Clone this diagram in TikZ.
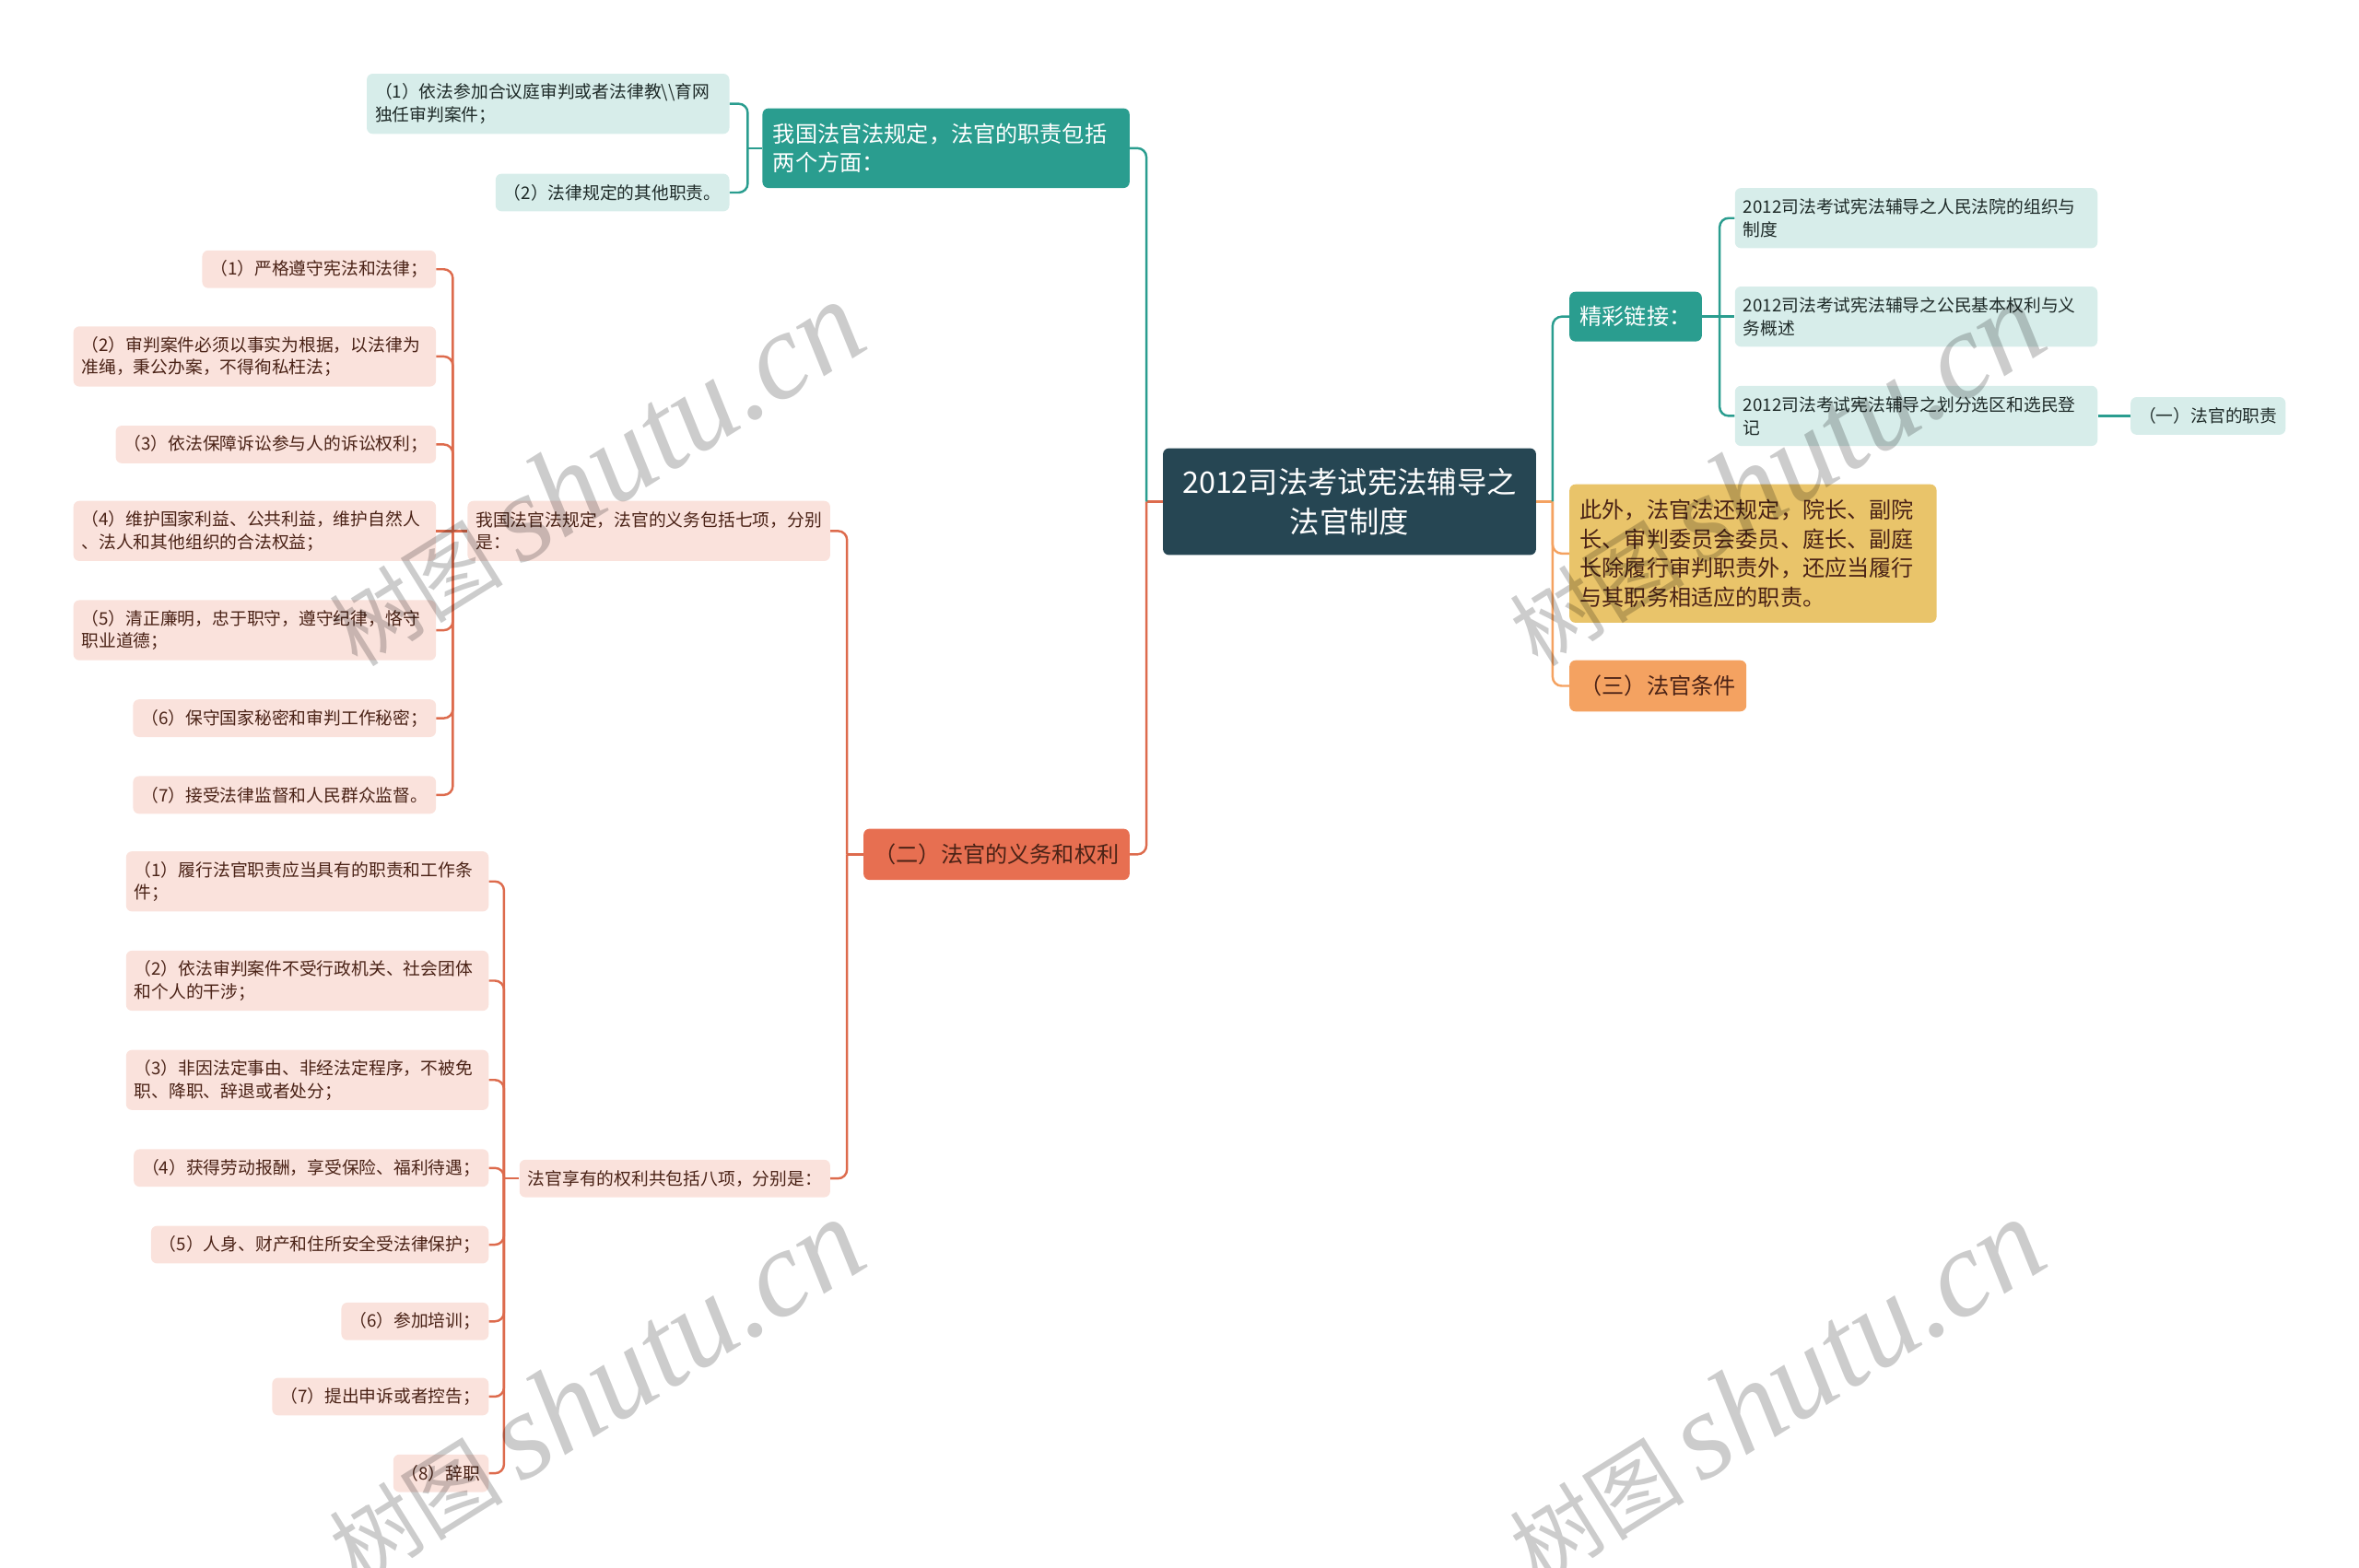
\documentclass[tikz,border=0pt]{standalone}
\usepackage{fontspec}
\setmainfont{Noto Sans CJK SC}
\newfontfamily\wmfont{Liberation Serif}

\definecolor{rootbg}{HTML}{264653}
\definecolor{tealc}{HTML}{2A9D8F}
\definecolor{tealbg}{HTML}{D7EDEA}
\definecolor{pinkbg}{HTML}{FAE2DC}
\definecolor{redc}{HTML}{E76F51}
\definecolor{linered}{HTML}{DD6B4D}
\definecolor{yellowbg}{HTML}{E9C46A}
\definecolor{orangec}{HTML}{F4A261}
\definecolor{browntxt}{HTML}{4A2216}
\definecolor{darktxt}{HTML}{1E2A28}

\begin{document}
\begin{tikzpicture}[x=1pt,y=-1pt,
  every node/.style={rounded corners=4pt,align=left},
  kid/.style={font=\fontsize{11.5}{15}\selectfont,inner xsep=5.5pt,inner ysep=3pt,minimum height=25pt},
  kidtwo/.style={kid,text width=230pt,minimum height=40pt},
  pinkbox/.style={fill=pinkbg,text=browntxt},
  tealbox/.style={fill=tealbg,text=darktxt},
  mid/.style={font=\fontsize{14.8}{19.5}\selectfont,inner xsep=7pt,inner ysep=4pt,minimum height=34pt},
  redlink/.style={draw=linered,line width=1.5pt,rounded corners=6pt},
  teallink/.style={draw=tealc,line width=1.5pt,rounded corners=6pt},
  orangelink/.style={draw=orangec,line width=1.5pt,rounded corners=6pt},
  wmark/.style={rotate=32,text=black,text opacity=0.2,inner sep=0pt}]
\useasboundingbox (0,0) rectangle (1568,1042);

%root
\node[fill=rootbg,text=white,align=center,font=\fontsize{19.8}{26}\selectfont,minimum width=248pt,minimum height=71pt] (root) at (897,333.5) {2012司法考试宪法辅导之\\法官制度};
\coordinate (jl) at (762,333.5);
\coordinate (jr) at (1032,333.5);

%duties
\node[mid,fill=tealc,text=white,text width=230pt,minimum height=53pt,anchor=east] (duty) at (751,98.5) {我国法官法规定，法官的职责包括\\两个方面：};
\node[kidtwo,tealbox,anchor=east] (d1) at (485,69) {（1）依法参加合议庭审判或者法律教\textbackslash\textbackslash 育网\\独任审判案件；};
\node[kid,tealbox,anchor=east] (d2) at (485,128) {（2）法律规定的其他职责。};
\coordinate (jd) at (497,98.5);

%(er)
\node[mid,fill=redc,text=browntxt,anchor=east] (two) at (751,568) {（二）法官的义务和权利};
\coordinate (jt) at (563,568);
\node[kidtwo,pinkbox,anchor=east] (ob) at (552,353) {我国法官法规定，法官的义务包括七项，分别\\是：};
\node[kid,pinkbox,anchor=east] (rt) at (552,783.5) {法官享有的权利共包括八项，分别是：};
\coordinate (jo) at (301,353);
\coordinate (jq) at (335,783.5);

%obligations
\node[kid,pinkbox,anchor=east] (ob1) at (290,179) {（1）严格遵守宪法和法律；};
\node[kidtwo,pinkbox,anchor=east] (ob2) at (290,237) {（2）审判案件必须以事实为根据，以法律为\\准绳，秉公办案，不得徇私枉法；};
\node[kid,pinkbox,anchor=east] (ob3) at (290,295.5) {（3）依法保障诉讼参与人的诉讼权利；};
\node[kidtwo,pinkbox,anchor=east] (ob4) at (290,353) {（4）维护国家利益、公共利益，维护自然人\\、法人和其他组织的合法权益；};
\node[kidtwo,pinkbox,anchor=east] (ob5) at (290,419) {（5）清正廉明，忠于职守，遵守纪律，恪守\\职业道德；};
\node[kid,pinkbox,anchor=east] (ob6) at (290,477.5) {（6）保守国家秘密和审判工作秘密；};
\node[kid,pinkbox,anchor=east] (ob7) at (290,528.5) {（7）接受法律监督和人民群众监督。};

%rights
\node[kidtwo,pinkbox,anchor=east] (rt1) at (325,586) {（1）履行法官职责应当具有的职责和工作条\\件；};
\node[kidtwo,pinkbox,anchor=east] (rt2) at (325,652) {（2）依法审判案件不受行政机关、社会团体\\和个人的干涉；};
\node[kidtwo,pinkbox,anchor=east] (rt3) at (325,718) {（3）非因法定事由、非经法定程序，不被免\\职、降职、辞退或者处分；};
\node[kid,pinkbox,anchor=east] (rt4) at (325,776.5) {（4）获得劳动报酬，享受保险、福利待遇；};
\node[kid,pinkbox,anchor=east] (rt5) at (325,827.5) {（5）人身、财产和住所安全受法律保护；};
\node[kid,pinkbox,anchor=east] (rt6) at (325,878.5) {（6）参加培训；};
\node[kid,pinkbox,anchor=east] (rt7) at (325,928.5) {（7）提出申诉或者控告；};
\node[kid,pinkbox,anchor=east] (rt8) at (325,979.5) {（8）辞职};

%right side
\node[mid,fill=tealc,text=white,minimum height=33pt,anchor=west] (link) at (1043,210.5) {精彩链接：};
\coordinate (jk) at (1143,210.5);
\node[kidtwo,tealbox,anchor=west] (l1) at (1153,145) {2012司法考试宪法辅导之人民法院的组织与\\制度};
\node[kidtwo,tealbox,anchor=west] (l2) at (1153,210.5) {2012司法考试宪法辅导之公民基本权利与义\\务概述};
\node[kidtwo,tealbox,anchor=west] (l3) at (1153,276.5) {2012司法考试宪法辅导之划分选区和选民登\\记};
\node[kid,tealbox,anchor=west] (lk) at (1416,276.5) {（一）法官的职责};
\node[mid,fill=yellowbg,text=browntxt,text width=230pt,minimum height=92pt,anchor=west] (note) at (1043,368) {此外，法官法还规定，院长、副院\\长、审判委员会委员、庭长、副庭\\长除履行审判职责外，还应当履行\\与其职务相适应的职责。};
\node[mid,fill=orangec,text=browntxt,anchor=west] (cond) at (1043,456) {（三）法官条件};

%links
\draw[redlink] (root.west) -- (jl);
\draw[teallink] (jl) |- (duty.east);
\draw[redlink] (jl) |- (two.east);
\draw[teallink] (duty.west) -- (jd);
\foreach \n in {d1,d2} \draw[teallink] (jd) |- (\n.east);
\draw[redlink] (two.west) -- (jt);
\foreach \n in {ob,rt} \draw[redlink] (jt) |- (\n.east);
\draw[redlink] (ob.west) -- (jo) -- (ob4.east);
\foreach \i in {1,2,3,5,6,7} \draw[redlink] (jo) |- (ob\i.east);
\draw[redlink] (rt.west) -- (jq);
\foreach \i in {1,...,8} \draw[redlink] (jq) |- (rt\i.east);
\draw[orangelink] (root.east) -- (jr);
\draw[teallink] (jr) |- (link.west);
\draw[orangelink] (jr) |- (note.west);
\draw[orangelink] (jr) |- (cond.west);
\draw[teallink] (link.east) -- (jk) -- (l2.west);
\foreach \i in {1,3} \draw[teallink] (jk) |- (l\i.west);
\draw[teallink] (l3.east) -- (lk.west);

%watermarks
\foreach \x/\y [count=\k] in {395/315,1180/315,395/925,1180/925}
  \node[wmark] (wm\k) at (\x,\y) {{\fontsize{58}{58}\selectfont 树图}\hspace{12pt}{\wmfont\itshape\fontsize{82}{82}\selectfont shutu.cn}};
\end{tikzpicture}
\end{document}
